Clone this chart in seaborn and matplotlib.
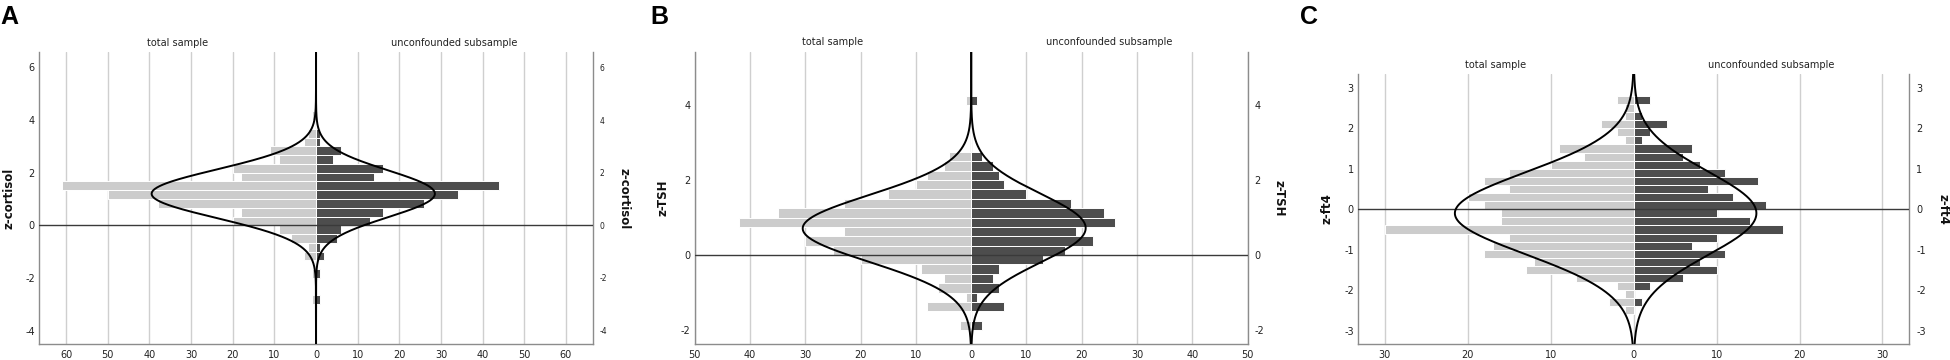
import numpy as np
import pandas as pd
import matplotlib
matplotlib.use("Agg")
import matplotlib.pyplot as plt
import seaborn as sns

# A: z-cortisol, bins of 1/3 starting at -3
cort_start = -3.0
cort_bw = 1 / 3
cort_total = [1, 0, 0, 1, 0, 3, 2, 6, 9, 20, 18, 38, 50, 61, 18, 20, 9, 11, 3, 2, 0, 1]
cort_unconf = [1, 0, 0, 1, 0, 2, 1, 5, 6, 13, 16, 26, 34, 44, 14, 16, 4, 6, 1, 1, 0, 0]
cort_fit_total = (1.2, 0.92)   # mean, sd of normal curve
cort_fit_unconf = (1.2, 0.89)

# B: z-TSH, bins of 0.25 starting at -2
tsh_start = -2.0
tsh_bw = 0.25
tsh_total = [2, 0, 8, 1, 6, 5, 9, 20, 25, 30, 23, 42, 35, 23, 15, 10, 8, 5, 4, 0, 0, 0, 0, 0, 1]
tsh_unconf = [2, 0, 6, 1, 5, 4, 5, 13, 17, 22, 19, 26, 24, 18, 10, 6, 5, 4, 2, 0, 0, 0, 0, 0, 1]
tsh_fit_total = (0.71, 0.89)
tsh_fit_unconf = (0.72, 0.915)

# C: z-ft4, bins of 0.2 starting at -2.6
ft4_start = -2.6
ft4_bw = 0.2
ft4_total = [1, 3, 1, 2, 7, 13, 12, 18, 17, 15, 30, 16, 16, 18, 20, 15, 18, 15, 10, 6, 9, 1, 2, 4, 1, 1, 2]
ft4_unconf = [0, 1, 0, 2, 6, 10, 8, 11, 7, 10, 18, 14, 10, 16, 12, 9, 15, 11, 8, 6, 7, 1, 2, 4, 1, 0, 2]
ft4_fit_total = (-0.1, 1.01)
ft4_fit_unconf = (-0.1, 1.03)

left_title = "total sample"
right_title = "unconfounded subsample"

panels = [
    dict(letter="A", label="z-cortisol", start=cort_start, bw=cort_bw,
         total=cort_total, unconf=cort_unconf,
         fit_t=cort_fit_total, fit_u=cort_fit_unconf,
         rect=[0.0200, 0.0431, 0.2841, 0.8111], xlim=66.5, xstep=60,
         ylim=(-4.53, 6.57), yticks=[-4, -2, 0, 2, 4, 6], rsize=5.5, fx=0.0,
         lab_l=-0.054, lab_r=1.056),
    dict(letter="B", label="z-TSH", start=tsh_start, bw=tsh_bw,
         total=tsh_total, unconf=tsh_unconf,
         fit_t=tsh_fit_total, fit_u=tsh_fit_unconf,
         rect=[0.3563, 0.0444, 0.2835, 0.8120], xlim=50, xstep=50,
         ylim=(-2.37, 5.42), yticks=[-2, 0, 2, 4], rsize=7, fx=0.3333,
         lab_l=-0.058, lab_r=1.057),
    dict(letter="C", label="z-ft4", start=ft4_start, bw=ft4_bw,
         total=ft4_total, unconf=ft4_unconf,
         fit_t=ft4_fit_total, fit_u=ft4_fit_unconf,
         rect=[0.6964, 0.0444, 0.2828, 0.7500], xlim=33.25, xstep=30,
         ylim=(-3.33, 3.34), yticks=[-3, -2, -1, 0, 1, 2, 3], rsize=7, fx=0.6667,
         lab_l=-0.056, lab_r=1.061),
]

sns.set_style("white")
plt.rcParams["font.family"] = ["DejaVu Sans"]

light = "#cccccc"
dark = "#4d4d4d"
spine_col = "#8c8c8c"

fig = plt.figure(figsize=(19.5, 3.6), dpi=100)

for p in panels:
    ax = fig.add_axes(p["rect"])
    n = len(p["total"])
    tot = np.array(p["total"], dtype=float)
    unc = np.array(p["unconf"], dtype=float)
    centers = p["start"] + p["bw"] * (np.arange(n) + 0.5)
    df = pd.DataFrame({"z": centers, "left": -tot, "right": unc})
    brange = (p["start"], p["start"] + n * p["bw"])

    # left side drawn with negative weights, right side positive
    sns.histplot(data=df, y="z", weights="left", binwidth=p["bw"], binrange=brange,
                 ax=ax, color=light, edgecolor="white", linewidth=0.7, alpha=1, zorder=2)
    sns.histplot(data=df, y="z", weights="right", binwidth=p["bw"], binrange=brange,
                 ax=ax, color=dark, edgecolor="white", linewidth=0.7, alpha=1, zorder=2)

    # normal curves
    yy = np.linspace(p["ylim"][0], p["ylim"][1], 600)
    for counts, (mu, sd), sign in [(tot, p["fit_t"], -1), (unc, p["fit_u"], 1)]:
        scale = counts.sum() * p["bw"]
        curve = scale * np.exp(-0.5 * ((yy - mu) / sd) ** 2) / (sd * np.sqrt(2 * np.pi))
        ax.plot(sign * curve, yy, color="black", lw=1.4, zorder=4)

    ax.axhline(0, color="#3a3a3a", lw=1, zorder=3)

    ax.set_xlim(-p["xlim"], p["xlim"])
    ax.set_ylim(*p["ylim"])
    xt = np.arange(-p["xstep"], p["xstep"] + 1, 10)
    ax.set_xticks(xt)
    ax.set_xticklabels([str(abs(int(v))) for v in xt])
    ax.set_yticks(p["yticks"])
    ax.set_yticklabels([str(v) for v in p["yticks"]])
    ax.grid(axis="x", color="#cfcfcf", lw=1)
    ax.set_axisbelow(True)
    ax.tick_params(axis="both", length=0, labelsize=7, colors="#222222")
    ax.tick_params(axis="x", pad=4)
    ax.tick_params(axis="y", pad=3)

    ax.spines["top"].set_visible(False)
    for s in ["left", "bottom", "right"]:
        ax.spines[s].set_color(spine_col)
        ax.spines[s].set_linewidth(1)

    ax.set_xlabel("")
    ax.set_ylabel("")

    sec = ax.secondary_yaxis("right")
    sec.set_yticks(p["yticks"])
    sec.set_yticklabels([str(v) for v in p["yticks"]])
    sec.tick_params(length=0, labelsize=p["rsize"], pad=5, colors="#222222")
    sec.spines["right"].set_visible(False)

    # axis titles on both sides
    ax.text(p["lab_l"], 0.5, p["label"], transform=ax.transAxes, rotation=90,
            ha="center", va="center", fontsize=8.5, fontweight="bold", color="#111111")
    ax.text(p["lab_r"], 0.5, p["label"], transform=ax.transAxes, rotation=270,
            ha="center", va="center", fontsize=8.5, fontweight="bold", color="#111111")

    ax.text(0.25, 1.032, left_title, transform=ax.transAxes, ha="center",
            va="center", fontsize=7, color="#222222")
    ax.text(0.75, 1.032, right_title, transform=ax.transAxes, ha="center",
            va="center", fontsize=7, color="#222222")

    fig.text(p["fx"], 0.985, p["letter"], ha="left", va="top", fontsize=18,
             fontweight="bold", color="black", family=["Liberation Sans", "DejaVu Sans"])

fig.savefig("out.png", dpi=100)
